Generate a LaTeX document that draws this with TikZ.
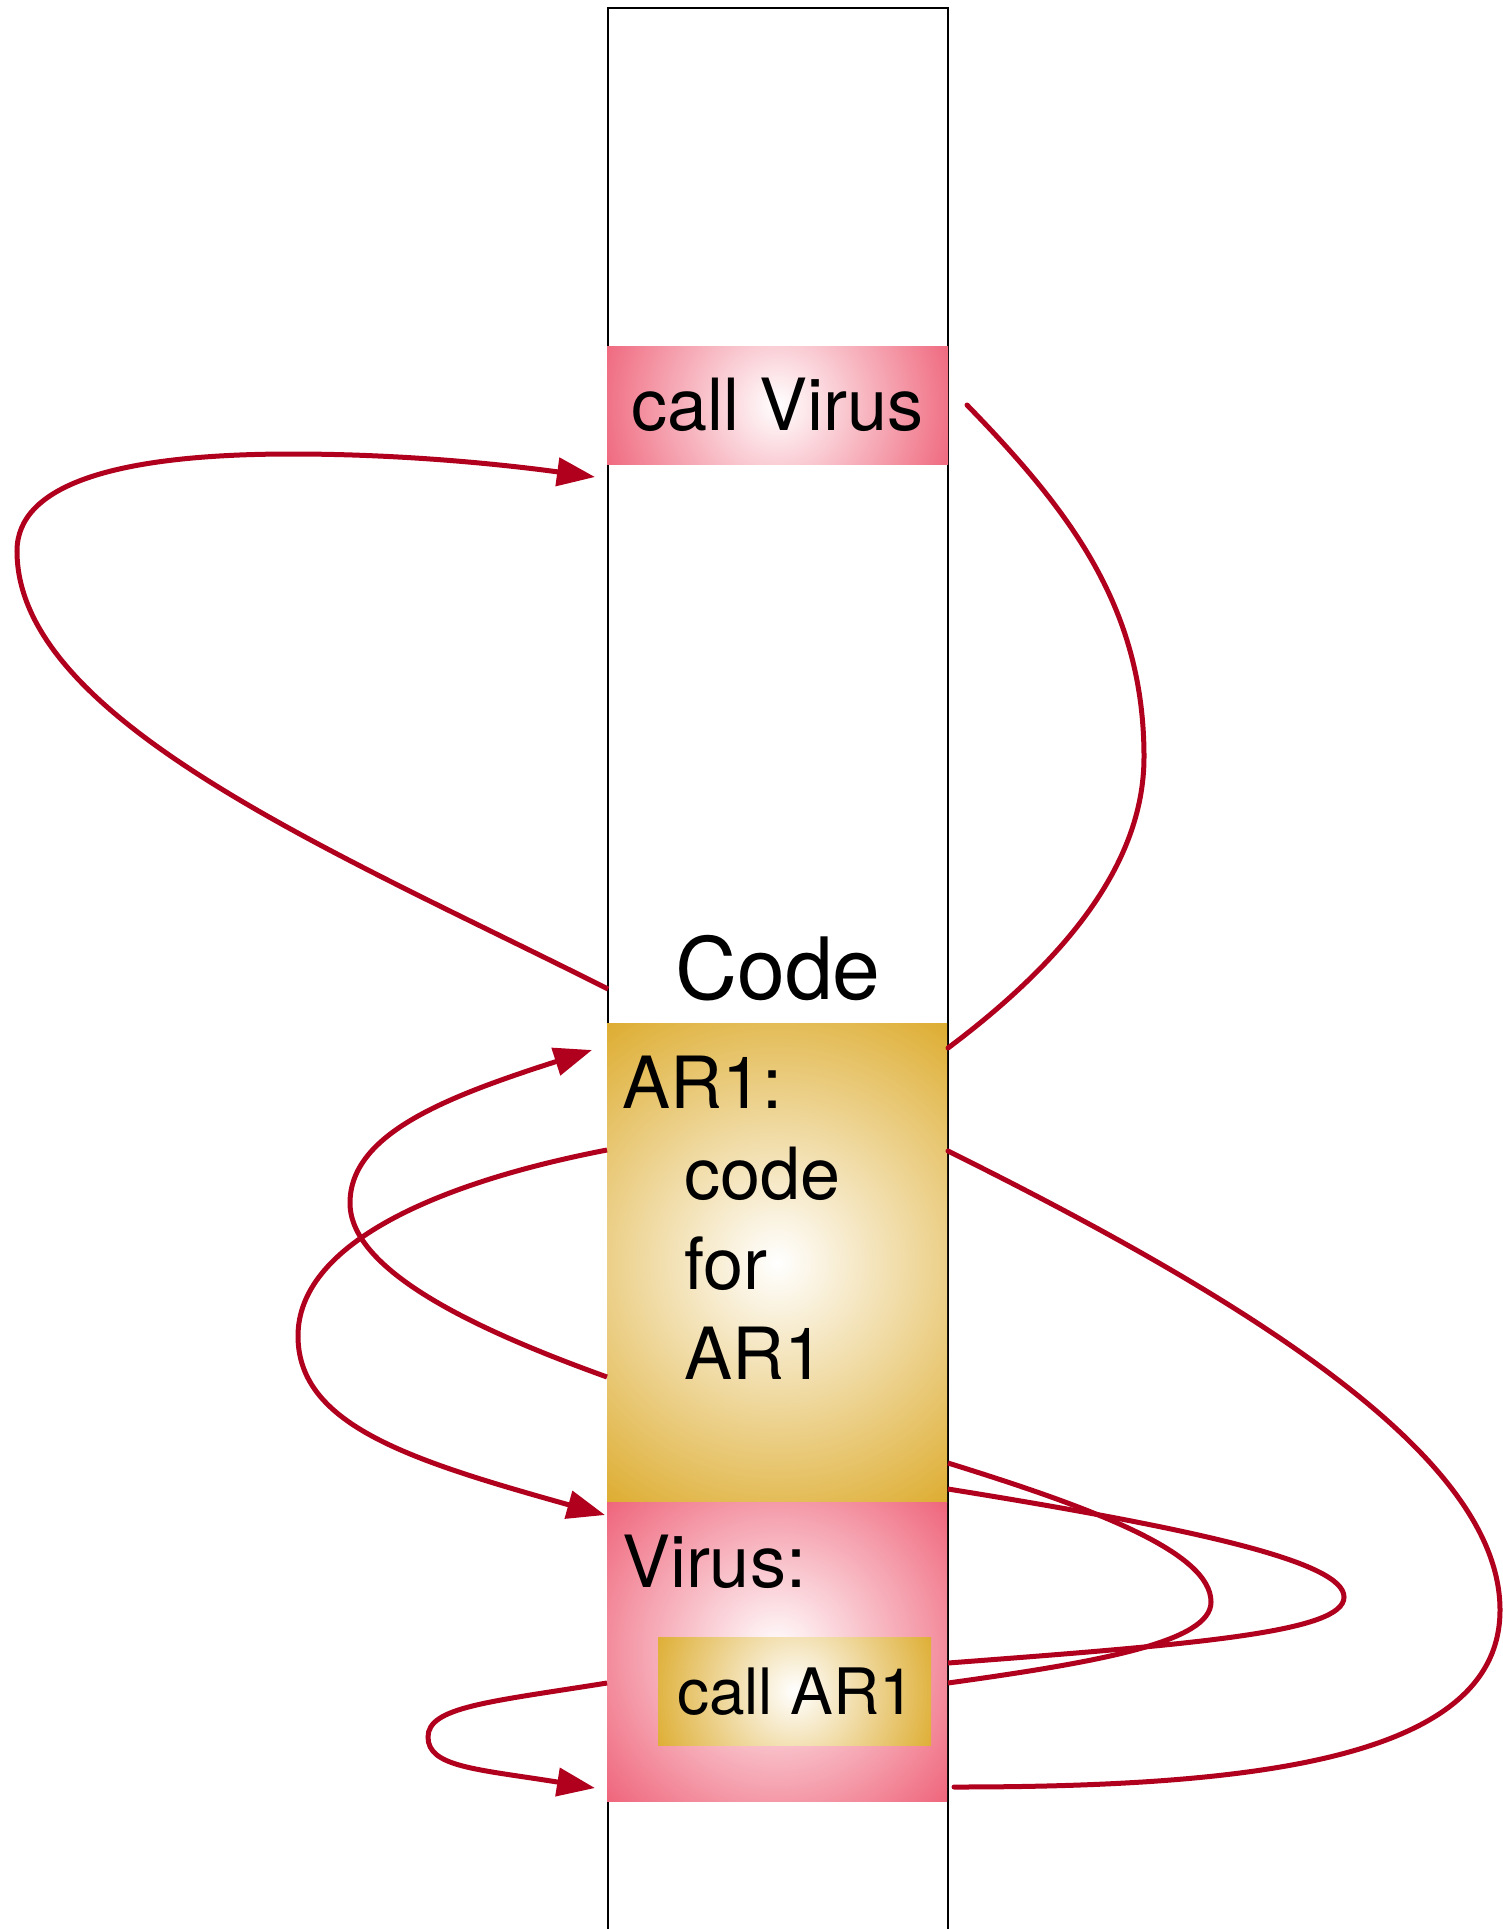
\documentclass[tikz,border=0pt]{standalone}
\usepackage{fontspec}
\setmainfont{TeX Gyre Heros}
\usetikzlibrary{arrows.meta}
\definecolor{virpink}{RGB}{239,102,124}
\definecolor{argold}{RGB}{222,174,52}
\definecolor{flowred}{RGB}{176,0,30}
\tikzset{
  segment/.style={rectangle, inner sep=0pt, outer sep=0pt, draw=none},
  glow/.style 2 args={path picture={\shade[inner color=white, outer color=#1]
      ([shift={(-#2,-#2)}]path picture bounding box.center) rectangle
      ([shift={(#2,#2)}]path picture bounding box.center);}},
  txt/.style={inner sep=0pt, outer sep=0pt, anchor=base west,
      font=\fontsize{72pt}{86pt}\selectfont},
  smalltxt/.style={txt, font=\fontsize{64pt}{76pt}\selectfont},
  bigtxt/.style={inner sep=0pt, outer sep=0pt, anchor=base,
      font=\fontsize{86pt}{100pt}\selectfont},
  column/.style={draw=black, line width=2.5pt},
  flow/.style={draw=flowred, line width=5pt},
  freeend/.style={line cap=round},
  arrowflow/.style={flow, -{Triangle[length=38pt,width=28pt]}},
}
\begin{document}
\begin{tikzpicture}[x=1pt, y=-1pt]
  \useasboundingbox (0,0) rectangle (1503,1929);
  \fill[white] (0,0) rectangle (1503,1929);

  % memory column
  \draw[column] (608,1929) -- (608,8) -- (948,8) -- (948,1929);

  % code segments
  \node[segment, minimum width=341pt, minimum height=118pt, glow={virpink}{185}]
    (callvirusbox) at (777.5,405) {};
  \node[segment, minimum width=340pt, minimum height=479pt, glow={argold}{290}]
    (ar1box) at (777,1262.5) {};
  \node[segment, minimum width=340pt, minimum height=299pt, glow={virpink}{225}]
    (virusbox) at (777,1651.5) {};
  \node[segment, minimum width=273pt, minimum height=108pt, glow={argold}{148}]
    (callar1box) at (794.5,1691) {};

  % texts
  \node[txt] (callvirus) at (631,430) {call Virus};
  \node[bigtxt] (code) at (778,999) {Code};
  \node[txt] (ar1label) at (622,1108) {AR1:};
  \node[txt] (ar1code) at (684,1199) {code};
  \node[txt] (ar1for) at (684,1289) {for};
  \node[txt] (ar1name) at (684,1379) {AR1};
  \node[txt] (viruslabel) at (622,1587) {Virus:};
  \node[smalltxt] (callar1) at (677,1714) {call AR1};

  % connector end points
  \coordinate (retvirus) at (608,989);
  \coordinate (intovirus) at (595,477);
  \coordinate (callvirusout) at (967,405);
  \coordinate (ar1top) at (948,1048);
  \coordinate (ar1back) at (607,1377);
  \coordinate (ar1entry) at (592,1050);
  \coordinate (ar1mid) at (607,1150);
  \coordinate (virusentry) at (605,1515);
  \coordinate (callar1left) at (607,1683);
  \coordinate (virusend) at (595,1788);
  \coordinate (ar1lowA) at (948,1463);
  \coordinate (callar1A) at (948,1683);
  \coordinate (ar1lowB) at (948,1489);
  \coordinate (callar1B) at (948,1663);
  \coordinate (ar1right) at (948,1151);
  \coordinate (virusbottom) at (954,1787);

  % control flow
  \draw[arrowflow] (retvirus) .. controls (340,854) and (17,721) .. (17,551)
     .. controls (17,486) and (112,454) .. (292,454)
     .. controls (400,454) and (500,464) .. (intovirus);
  \draw[flow, freeend] (callvirusout) .. controls (1070,511) and (1144,607) .. (1144,757)
     .. controls (1144,867) and (1060,964) .. (ar1top);
  \draw[arrowflow] (ar1back) .. controls (485,1333) and (350,1273) .. (350,1203)
     .. controls (350,1133) and (449,1096) .. (ar1entry);
  \draw[arrowflow] (ar1mid) .. controls (431,1184) and (298,1246) .. (298,1336)
     .. controls (298,1426) and (413,1461) .. (virusentry);
  \draw[arrowflow] (callar1left) .. controls (488,1702) and (428,1707) .. (428,1737)
     .. controls (428,1767) and (476,1769) .. (virusend);
  \draw[flow] (ar1lowA) .. controls (1093,1508) and (1211,1552) .. (1211,1602)
     .. controls (1211,1642) and (1099,1662) .. (callar1A);
  \draw[flow] (ar1lowB) .. controls (1197,1529) and (1344,1562) .. (1344,1597)
     .. controls (1344,1632) and (1199,1644) .. (callar1B);
  \draw[flow, freeend] (ar1right) .. controls (1262,1307) and (1500,1460) .. (1500,1610)
     .. controls (1500,1760) and (1252,1787) .. (virusbottom);
\end{tikzpicture}
\end{document}
